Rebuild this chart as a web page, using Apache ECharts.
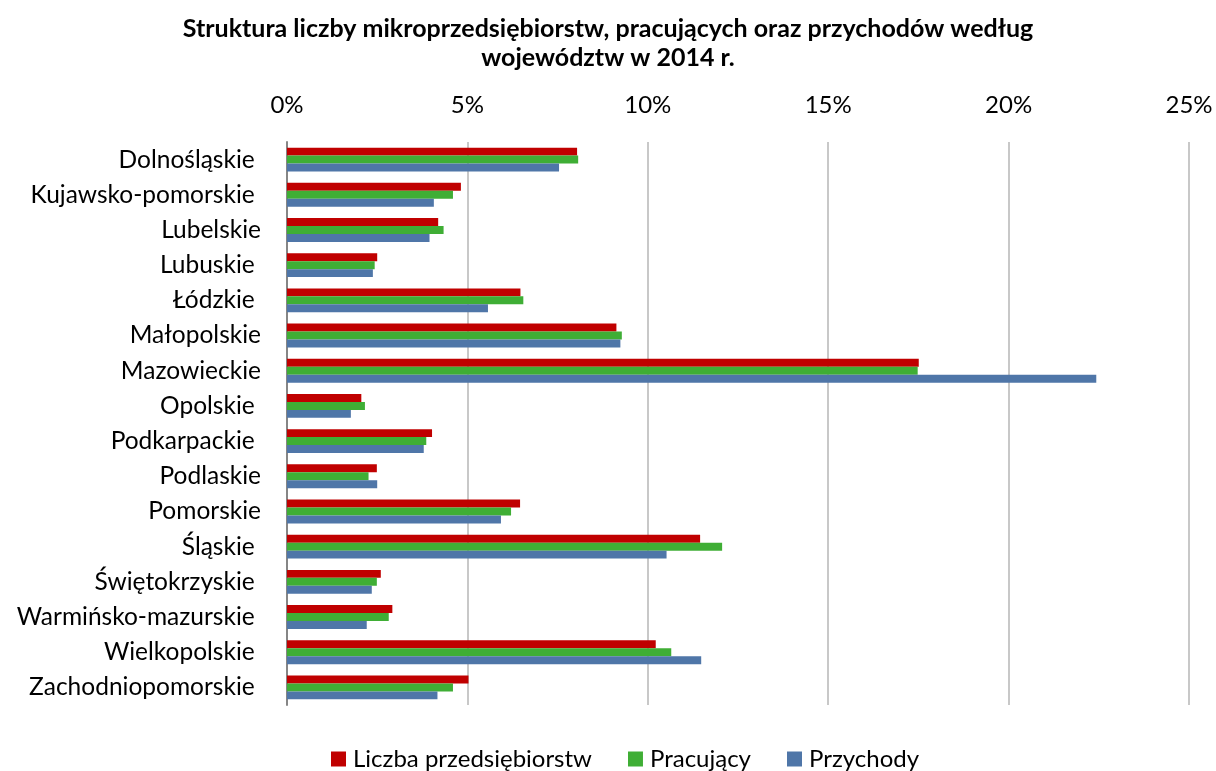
<!DOCTYPE html>
<html>
<head>
<meta charset="utf-8">
<script src="https://cdn.jsdelivr.net/npm/echarts@6/dist/echarts.min.js"></script>
<style>html,body{margin:0;padding:0;background:#fff}#c{width:1216px;height:771px}</style>
</head>
<body>
<div id="c"></div>
<script>
const categories = ["Dolnośląskie ","Kujawsko-pomorskie ","Lubelskie","Lubuskie ","Łódzkie ","Małopolskie","Mazowieckie","Opolskie ","Podkarpackie ","Podlaskie","Pomorskie","Śląskie ","Świętokrzyskie ","Warmińsko-mazurskie ","Wielkopolskie ","Zachodniopomorskie "];
const liczba = [8.04,4.82,4.19,2.50,6.47,9.13,17.51,2.06,4.02,2.49,6.46,11.45,2.60,2.92,10.22,5.03];
const pracujacy = [8.07,4.60,4.34,2.43,6.55,9.28,17.48,2.16,3.86,2.26,6.21,12.06,2.49,2.82,10.65,4.60];
const przychody = [7.54,4.07,3.95,2.38,5.57,9.24,22.43,1.77,3.79,2.50,5.93,10.52,2.35,2.21,11.48,4.17];
const seriesNames = ["Liczba przedsiębiorstw","Pracujący","Przychody"];
const titleText = "Struktura liczby mikroprzedsiębiorstw, pracujących oraz przychodów według\nwojewództw w 2014 r.";

const FONT = "Lato";
const chart = echarts.init(document.getElementById('c'));
const colors = ['#C00000','#3FAE35','#4F76A8'];
const datas = [liczba, pracujacy, przychody];
chart.setOption({
  animation: false,
  backgroundColor: '#fff',
  title: {
    text: titleText,
    left: 'center', top: 9,
    textStyle: {fontFamily: FONT, fontSize: 25, fontWeight: 'bold', color: '#000', lineHeight: 29}
  },
  legend: {
    top: 742, left: 326,
    itemWidth: 15, itemHeight: 15, itemGap: 36,
    icon: 'rect',
    textStyle: {fontFamily: FONT, fontSize: 24, color: '#000', padding: [0, 0, 0, 2]},
    data: seriesNames
  },
  grid: {left: 287, right: 27, top: 142, bottom: 66, containLabel: false},
  xAxis: {
    type: 'value', position: 'top', min: 0, max: 25, interval: 5,
    axisLabel: {formatter: '{value}%', fontFamily: FONT, fontSize: 24, color: '#000', margin: 25},
    axisLine: {show: false}, axisTick: {show: false},
    splitLine: {show: true, lineStyle: {color: '#C8C8C8', width: 2}}
  },
  yAxis: {
    type: 'category', inverse: true, data: categories,
    axisLine: {show: true, lineStyle: {color: '#868686', width: 2}},
    axisTick: {show: false},
    axisLabel: {fontFamily: FONT, fontSize: 24.5, color: '#000', margin: 26}
  },
  series: seriesNames.map((n, i) => ({
    name: n, type: 'bar', data: datas[i],
    barGap: '0%', barCategoryGap: '32%',
    itemStyle: {color: colors[i]}
  }))
});
</script>
</body>
</html>
